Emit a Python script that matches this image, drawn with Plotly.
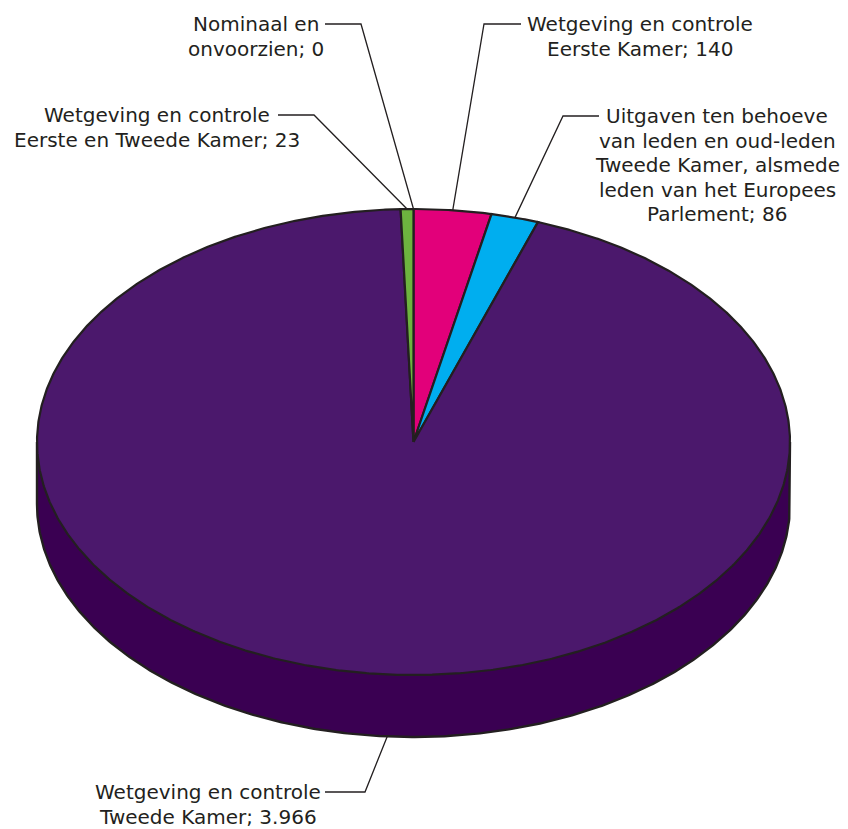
import numpy as np
import plotly.graph_objects as go

# ---- data ----
label_lines = [
    ["Wetgeving en controle", "Eerste Kamer"],
    ["Uitgaven ten behoeve", "van leden en oud-leden", "Tweede Kamer, alsmede",
     "leden van het Europees", "Parlement"],
    ["Wetgeving en controle", "Tweede Kamer"],
    ["Wetgeving en controle", "Eerste en Tweede Kamer"],
    ["Nominaal en", "onvoorzien"],
]
values = [140, 86, 3966, 23, 0]
top_colors = ["#E2007A", "#00AEEF", "#4B186C", "#6DB33F", "#888888"]
side_colors = ["#A0005A", "#0080B0", "#3A0052", "#4F8A2C", "#666666"]

# ---- layout / geometry (window pixel coordinates) ----
W, H = 848, 829
OFF = 8  # default page body margin
cx, cy, rx, ry, depth = 413.5, 442.0, 376.5, 233.0, 62.0
OUT = "#231F20"
FONT = dict(family="DejaVu Sans", size=20, color=OUT)
LINE_GAP = 24.6

# label placement: (text centre x, first line y, horizontal leader start x, elbow x, anchor angle override or None, on bottom edge)
label_pos = [
    (640, 24, 521, 484, None, False),
    (717, 116, 599, 563, None, False),
    (208, 792, 325, 365, 184.0, True),
    (157, 115, 278, 314, None, False),
    (256, 24, 325, 361, None, False),
]


def pt(theta_deg, dy=0.0):
    t = np.radians(theta_deg)
    return cx + rx * np.sin(t), cy - ry * np.cos(t) + dy


total = sum(values)
angles = np.cumsum([0] + values) / total * 360.0

fig = go.Figure()

# side walls (front half: 90..270 deg)
for i, v in enumerate(values):
    a0, a1 = angles[i], angles[i + 1]
    s, e = max(a0, 90.0), min(a1, 270.0)
    if e <= s:
        continue
    th = np.linspace(s, e, 300)
    xt, yt = pt(th)
    xb, yb = pt(th[::-1], depth)
    fig.add_trace(go.Scatter(
        x=np.concatenate([xt, xb, xt[:1]]), y=np.concatenate([yt, yb, yt[:1]]),
        fill="toself", fillcolor=side_colors[i], mode="lines",
        line=dict(width=0, color=side_colors[i]), hoverinfo="skip", showlegend=False))

# wall outline: bottom arc and vertical edges
th = np.linspace(90, 270, 400)
xb, yb = pt(th, depth)
x90, y90 = pt(90.0)
x270, y270 = pt(270.0)
fig.add_trace(go.Scatter(
    x=np.concatenate([[x90], xb, [x270]]), y=np.concatenate([[y90], yb, [y270]]),
    mode="lines", line=dict(width=2.4, color=OUT), hoverinfo="skip", showlegend=False))

# top slices
for i, v in enumerate(values):
    a0, a1 = angles[i], angles[i + 1]
    if a1 - a0 <= 0:
        continue
    th = np.linspace(a0, a1, max(3, int((a1 - a0) * 3)))
    xs, ys = pt(th)
    fig.add_trace(go.Scatter(
        x=np.concatenate([[cx], xs, [cx]]), y=np.concatenate([[cy], ys, [cy]]),
        fill="toself", fillcolor=top_colors[i], mode="lines",
        line=dict(width=2.2, color=OUT), hoverinfo="skip", showlegend=False))

# leaders and labels
annotations = []
for i, v in enumerate(values):
    tx, ty, hx, ex, ov, bottom = label_pos[i]
    mid = ov if ov is not None else (angles[i] + angles[i + 1]) / 2.0
    ax, ay = pt(mid, depth if bottom else 0.0)
    fig.add_trace(go.Scatter(
        x=[hx, ex, ax], y=[ty, ty, ay], mode="lines",
        line=dict(width=1.3, color=OUT), hoverinfo="skip", showlegend=False))
    lines = list(label_lines[i])
    vtxt = f"{v:,}".replace(",", ".")
    lines[-1] = f"{lines[-1]}; {vtxt}"
    for k, ln in enumerate(lines):
        annotations.append(dict(
            x=tx, y=ty + k * LINE_GAP, text=ln, showarrow=False,
            xanchor="center", yanchor="middle", font=FONT, xref="x", yref="y"))

fig.update_layout(
    width=W - OFF, height=H - OFF, margin=dict(l=0, r=0, t=0, b=0),
    paper_bgcolor="white", plot_bgcolor="white",
    xaxis=dict(range=[OFF, W], visible=False, fixedrange=True),
    yaxis=dict(range=[H, OFF], visible=False, fixedrange=True),
    annotations=annotations, showlegend=False,
)
fig.write_html("out.html")
